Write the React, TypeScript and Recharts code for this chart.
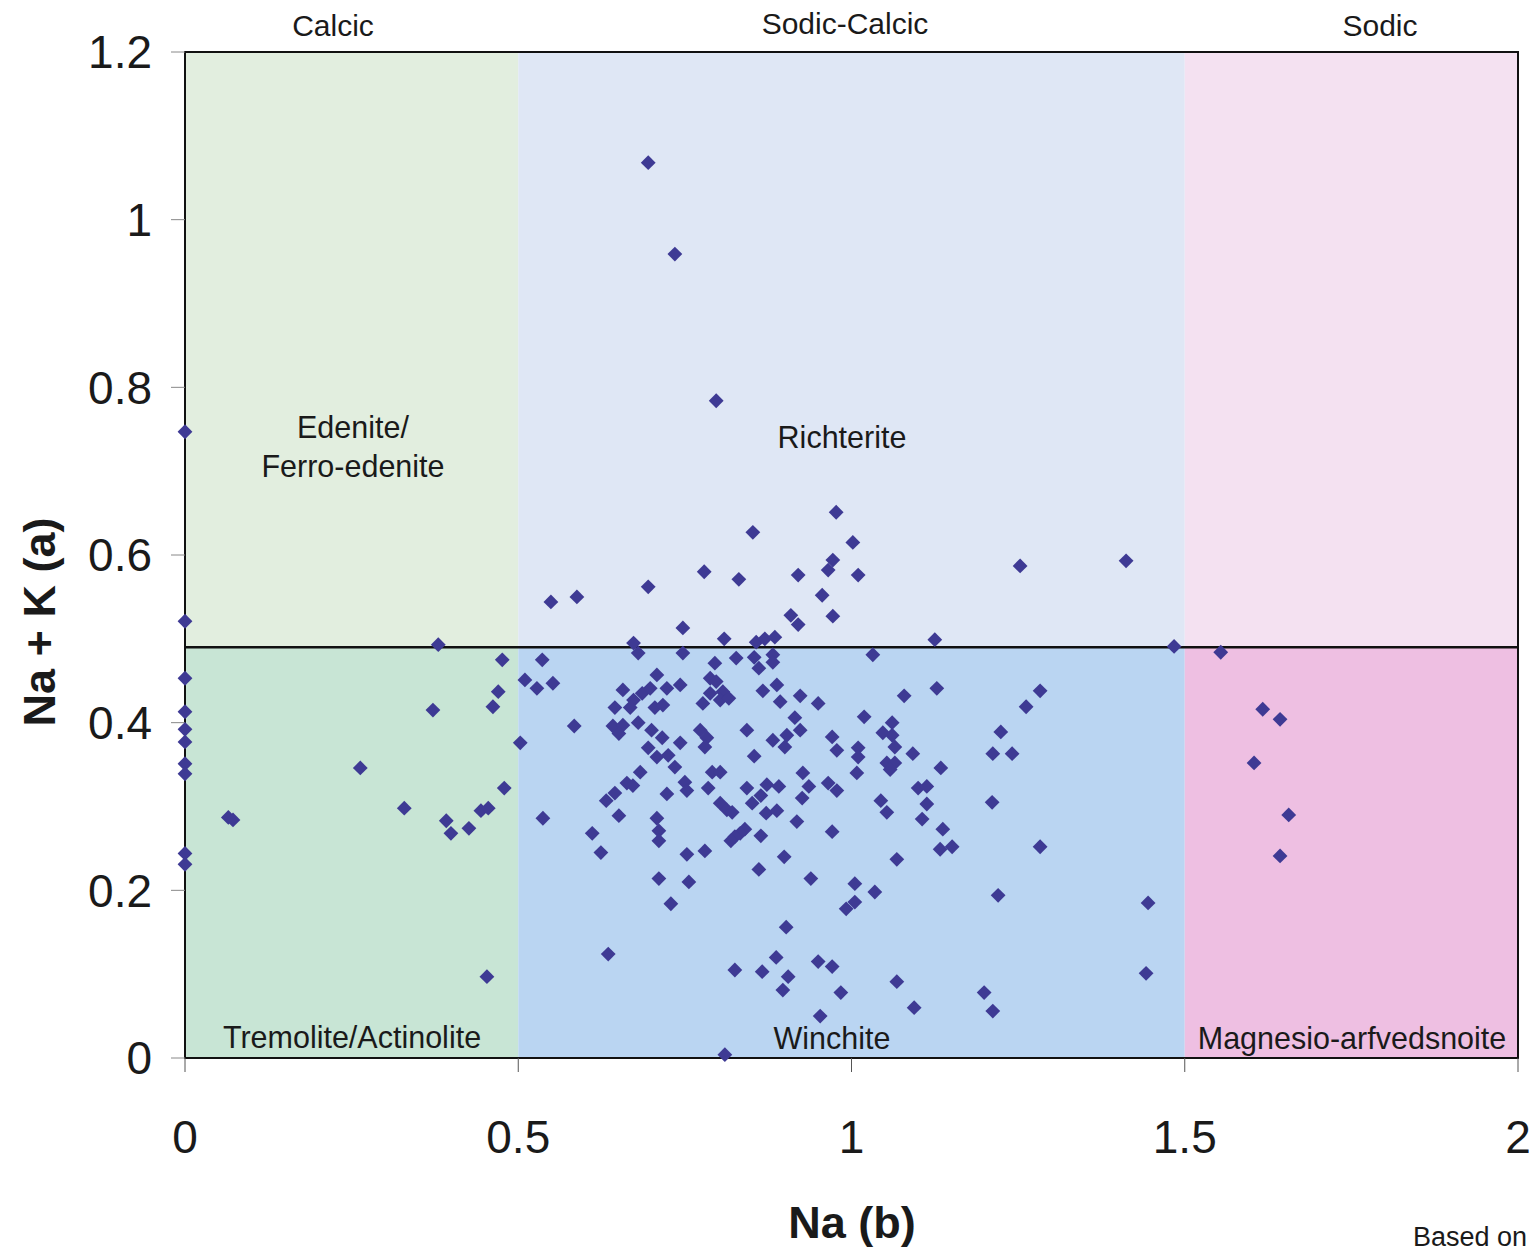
import React from 'react';
import { ScatterChart, Scatter, XAxis, YAxis, ReferenceArea, ReferenceLine } from 'recharts';

// ---- data (Na(b), Na+K(a)) ----
const calcicPoints: [number, number][] = [
  [0, 0.747], [0, 0.521], [0, 0.453], [0, 0.413], [0, 0.392], [0, 0.377], [0, 0.351], [0, 0.339], [0, 0.244], [0, 0.231],
  [0.065, 0.287], [0.072, 0.284],
  [0.263, 0.346], [0.329, 0.298], [0.372, 0.415], [0.38, 0.493],
  [0.392, 0.283], [0.399, 0.268], [0.426, 0.274], [0.444, 0.295], [0.455, 0.298],
  [0.453, 0.097], [0.462, 0.419], [0.47, 0.437], [0.476, 0.475], [0.479, 0.322],
];

const sodicCalcicPoints: [number, number][] = [
  [0.503, 0.376], [0.51, 0.451], [0.536, 0.475], [0.528, 0.441], [0.552, 0.447], [0.537, 0.286],
  [0.549, 0.544], [0.588, 0.55], [0.695, 0.562], [0.747, 0.513],
  [0.673, 0.495], [0.68, 0.483], [0.747, 0.483],
  [0.708, 0.457], [0.657, 0.439], [0.686, 0.435], [0.698, 0.441], [0.723, 0.441], [0.743, 0.445],
  [0.673, 0.427], [0.668, 0.418], [0.645, 0.418], [0.705, 0.418], [0.717, 0.421],
  [0.584, 0.396], [0.642, 0.396], [0.657, 0.397], [0.651, 0.387], [0.68, 0.4], [0.7, 0.391], [0.716, 0.382], [0.743, 0.376],
  [0.695, 0.37], [0.708, 0.359], [0.725, 0.361], [0.735, 0.347], [0.683, 0.341],
  [0.611, 0.268], [0.624, 0.245], [0.632, 0.307], [0.645, 0.316], [0.651, 0.289], [0.663, 0.328], [0.672, 0.325],
  [0.708, 0.286], [0.711, 0.271], [0.711, 0.259], [0.723, 0.315], [0.75, 0.329], [0.753, 0.319], [0.753, 0.243],
  [0.711, 0.214], [0.756, 0.21], [0.729, 0.184], [0.635, 0.124],
  [0.695, 1.068], [0.735, 0.959], [0.797, 0.784],
  [0.977, 0.651], [0.852, 0.627], [1.002, 0.615], [0.972, 0.594], [0.965, 0.582], [0.779, 0.58], [0.831, 0.571], [0.92, 0.576], [1.01, 0.576],
  [0.956, 0.552], [0.972, 0.527], [0.909, 0.528], [0.92, 0.517],
  [0.809, 0.5], [0.857, 0.496], [0.87, 0.5], [0.885, 0.502],
  [1.032, 0.481], [0.795, 0.471], [0.827, 0.477], [0.854, 0.478], [0.861, 0.465], [0.882, 0.481], [0.882, 0.472],
  [0.788, 0.453], [0.797, 0.449], [0.788, 0.435], [0.807, 0.437], [0.803, 0.427], [0.816, 0.429], [0.777, 0.423],
  [0.867, 0.438], [0.888, 0.445], [0.893, 0.425], [0.923, 0.432], [0.95, 0.423], [1.019, 0.407],
  [0.915, 0.406], [0.923, 0.391], [0.843, 0.391], [0.773, 0.391], [0.783, 0.382], [0.78, 0.371],
  [0.882, 0.379], [0.9, 0.371], [0.903, 0.385], [0.971, 0.383], [0.978, 0.367], [1.01, 0.37], [1.01, 0.359], [0.854, 0.36],
  [0.791, 0.341], [0.803, 0.341], [0.927, 0.34], [1.008, 0.34],
  [0.785, 0.322], [0.843, 0.322], [0.873, 0.326], [0.891, 0.324], [0.936, 0.324], [0.965, 0.328], [0.978, 0.319],
  [0.864, 0.313], [0.851, 0.304], [0.803, 0.304], [0.813, 0.296], [0.821, 0.293], [0.926, 0.31], [0.872, 0.292], [0.888, 0.295], [0.918, 0.282], [0.971, 0.27], [0.864, 0.265],
  [0.84, 0.273], [0.833, 0.268], [0.825, 0.264], [0.819, 0.259],
  [0.78, 0.247], [0.899, 0.24], [0.861, 0.225], [0.939, 0.214], [1.005, 0.208], [1.005, 0.186], [0.992, 0.178], [0.902, 0.156],
  [0.887, 0.12], [0.825, 0.105], [0.866, 0.103], [0.905, 0.097], [0.897, 0.081], [0.95, 0.115], [0.971, 0.109], [0.984, 0.078], [0.953, 0.05], [0.81, 0.004],
  [1.253, 0.587], [1.125, 0.499], [1.128, 0.441], [1.079, 0.432], [1.283, 0.438], [1.262, 0.419],
  [1.061, 0.4], [1.047, 0.388], [1.061, 0.385], [1.065, 0.371], [1.092, 0.363], [1.224, 0.389], [1.212, 0.363], [1.241, 0.363],
  [1.053, 0.352], [1.065, 0.352], [1.058, 0.344], [1.134, 0.346],
  [1.1, 0.322], [1.113, 0.324], [1.044, 0.307], [1.053, 0.293], [1.113, 0.303], [1.106, 0.285], [1.211, 0.305], [1.137, 0.273], [1.133, 0.249], [1.151, 0.252], [1.283, 0.252], [1.068, 0.237], [1.035, 0.198], [1.22, 0.194],
  [1.068, 0.091], [1.094, 0.06], [1.199, 0.078], [1.212, 0.056],
  [1.412, 0.593], [1.484, 0.491], [1.445, 0.185], [1.442, 0.101],
];

const sodicPoints: [number, number][] = [
  [1.554, 0.484], [1.617, 0.416], [1.643, 0.404], [1.604, 0.352], [1.656, 0.29], [1.643, 0.241],
];

const xTicks = [0, 0.5, 1, 1.5, 2];
const yTicks = [0, 0.2, 0.4, 0.6, 0.8, 1, 1.2];
const groupBounds = [0, 0.5, 1.5, 2];
const divisionY = 0.49;
const yMax = 1.2;

const upperColors = ['#e2eedf', '#dfe7f5', '#f4e1f1'];
const lowerColors = ['#c8e5d5', '#bad5f2', '#eebfe2'];

const groupNames = ['Calcic', 'Sodic-Calcic', 'Sodic'];
const fieldNames = ['Edenite/', 'Ferro-edenite', 'Richterite', 'Tremolite/Actinolite', 'Winchite', 'Magnesio-arfvedsnoite'];

const toObjs = (arr: [number, number][]) => arr.map(([x, y]) => ({ x, y }));

const MARK = '#3e3a94';
const Diamond = (props: any) => {
  const { cx, cy } = props;
  if (cx == null || cy == null) return null;
  const r = 7.4;
  return <path d={`M${cx},${cy - r}L${cx + r},${cy}L${cx},${cy + r}L${cx - r},${cy}Z`} fill={MARK} />;
};

const FONT = '"Liberation Sans", Arial, Helvetica, sans-serif';

export default function App() {
  const W = 1530;
  const H = 1244;
  const textStyle = { fontFamily: FONT, fill: '#1a1a1a' };
  return (
    <div style={{ position: 'relative', width: W, height: H, background: '#fff' }}>
      <ScatterChart width={W} height={H} margin={{ top: 44, right: 20, left: 0, bottom: 0 }}>
        {groupBounds.slice(0, -1).map((b, i) => (
          <ReferenceArea key={'u' + i} x1={b} x2={groupBounds[i + 1]} y1={divisionY} y2={yMax} fill={upperColors[i]} fillOpacity={1} stroke="none" />
        ))}
        {groupBounds.slice(0, -1).map((b, i) => (
          <ReferenceArea key={'l' + i} x1={b} x2={groupBounds[i + 1]} y1={0} y2={divisionY} fill={lowerColors[i]} fillOpacity={1} stroke="none" />
        ))}
        <ReferenceArea x1={0} x2={2} y1={0} y2={yMax} fill="none" fillOpacity={0} stroke="#111" strokeWidth={2} />
        <ReferenceLine y={divisionY} stroke="#111" strokeWidth={2.5} />
        <XAxis
          type="number"
          dataKey="x"
          domain={[0, 2]}
          ticks={xTicks}
          interval={0}
          height={194}
          tickSize={14}
          tickMargin={48}
          axisLine={{ stroke: '#111', strokeWidth: 2 }}
          tickLine={{ stroke: '#555', strokeWidth: 1 }}
          tick={{ fontSize: 46, fontFamily: FONT, fill: '#1a1a1a' }}
        />
        <YAxis
          type="number"
          dataKey="y"
          domain={[0, yMax]}
          ticks={yTicks}
          interval={0}
          width={177}
          tickSize={14}
          tickMargin={19}
          axisLine={{ stroke: '#111', strokeWidth: 2 }}
          tickLine={{ stroke: '#888', strokeWidth: 1 }}
          tick={{ fontSize: 46, fontFamily: FONT, fill: '#1a1a1a' }}
        />
        <Scatter data={toObjs(calcicPoints)} shape={Diamond} isAnimationActive={false} />
        <Scatter data={toObjs(sodicCalcicPoints)} shape={Diamond} isAnimationActive={false} />
        <Scatter data={toObjs(sodicPoints)} shape={Diamond} isAnimationActive={false} />
      </ScatterChart>
      <svg
        width={W}
        height={H}
        style={{ position: 'absolute', left: 0, top: 0, pointerEvents: 'none', overflow: 'hidden' }}
      >
        {/* group headings */}
        <text x={325} y={28} textAnchor="middle" fontSize={30} style={textStyle}>{groupNames[0]}</text>
        <text x={837} y={26} textAnchor="middle" fontSize={30} style={textStyle}>{groupNames[1]}</text>
        <text x={1372} y={28} textAnchor="middle" fontSize={30} style={textStyle}>{groupNames[2]}</text>

        {/* field names */}
        <text x={345} y={430} textAnchor="middle" fontSize={30.5} style={textStyle}>{fieldNames[0]}</text>
        <text x={345} y={469} textAnchor="middle" fontSize={30.5} style={textStyle}>{fieldNames[1]}</text>
        <text x={834} y={440} textAnchor="middle" fontSize={30.5} style={textStyle}>{fieldNames[2]}</text>
        <text x={344} y={1040} textAnchor="middle" fontSize={30.5} style={textStyle}>{fieldNames[3]}</text>
        <text x={824} y={1041} textAnchor="middle" fontSize={30.5} style={textStyle}>{fieldNames[4]}</text>
        <text x={1344} y={1041} textAnchor="middle" fontSize={30.5} style={textStyle}>{fieldNames[5]}</text>

        {/* axis titles */}
        <text x={844} y={1230} textAnchor="middle" fontSize={45} fontWeight="bold" style={textStyle}>Na (b)</text>
        <text x={47} y={614} textAnchor="middle" fontSize={45} fontWeight="bold" transform="rotate(-90 47 614)" style={textStyle}>Na + K (a)</text>

        <text x={1405} y={1238} textAnchor="start" fontSize={27} style={textStyle}>Based on</text>
      </svg>
    </div>
  );
}
